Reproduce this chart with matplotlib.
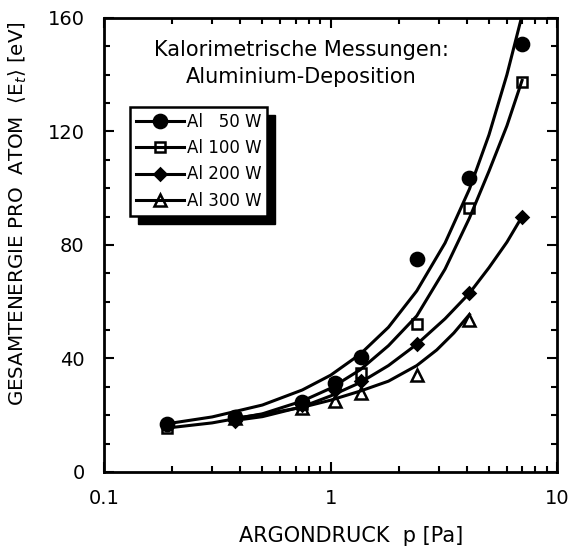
import numpy as np
import matplotlib
matplotlib.use("Agg")
import matplotlib.pyplot as plt
from matplotlib.patches import Rectangle
from matplotlib.legend_handler import HandlerTuple

plt.rcParams['font.family'] = ['DejaVu Sans']
plt.rcParams['mathtext.fontset'] = 'dejavusans'

# measured points (pressure in Pa, energy in eV)
p_50 = [0.19, 0.38, 0.75, 1.05, 1.36, 2.4, 4.1, 7.0]
e_50 = [17, 19.5, 24.5, 31.5, 40.5, 75, 103.5, 151]
p_100 = [0.19, 0.38, 0.75, 1.05, 1.36, 2.4, 4.1, 7.0]
e_100 = [15.5, 19, 24, 31, 35, 52, 93, 137.5]
p_200 = [0.38, 0.75, 1.05, 1.36, 2.4, 4.1, 7.0]
e_200 = [18, 23.5, 29, 32, 45, 63, 90]
p_300 = [0.38, 0.75, 1.05, 1.36, 2.4, 4.1]
e_300 = [19, 22.5, 25, 28, 34.2, 53.5]

# fit curves
pc_50 = [0.19, 0.3, 0.5, 0.75, 1.0, 1.35, 1.8, 2.4, 3.2, 4.1, 5.0, 6.0, 6.95]
ec_50 = [17, 19.4, 23.6, 28.9, 34.1, 41.5, 51, 63.8, 80.7, 99.7, 118.8, 140, 160]
pc_100 = [0.19, 0.3, 0.5, 0.75, 1.0, 1.35, 1.8, 2.4, 3.2, 4.1, 5.0, 6.0, 7.0]
ec_100 = [15.5, 17.3, 20.5, 25, 29.5, 36, 44.5, 55, 71.5, 89.5, 106, 122, 138]
pc_200 = [0.38, 0.5, 0.75, 1.0, 1.35, 1.8, 2.4, 3.2, 4.1, 5.0, 6.0, 7.0]
ec_200 = [18.2, 19.5, 23, 26.8, 31.5, 37.5, 45, 54, 63, 72, 81, 90]
pc_300 = [0.38, 0.5, 0.75, 1.0, 1.35, 1.8, 2.4, 2.94, 3.5, 4.1]
ec_300 = [19, 20.3, 22.8, 25.3, 28.5, 32, 37.5, 43, 49, 55.5]

labels = ['Al   50 W', 'Al 100 W', 'Al 200 W', 'Al 300 W']

fig = plt.figure(figsize=(5.7, 5.53), dpi=100)
ax = fig.add_axes([0.1825, 0.1465, 0.795, 0.821])

series = [
    (p_50, e_50, pc_50, ec_50, dict(marker='o', ms=9.5, mfc='black')),
    (p_100, e_100, pc_100, ec_100, dict(marker='s', ms=7.5, mfc='none')),
    (p_200, e_200, pc_200, ec_200, dict(marker='D', ms=6.5, mfc='black')),
    (p_300, e_300, pc_300, ec_300, dict(marker='^', ms=8, mfc='none')),
]
handles = []
for p, e, pc, ec, mk in series:
    ln, = ax.plot(pc, ec, '-', color='black', lw=2.2, zorder=2)
    mk_ln, = ax.plot(p, e, ls='none', color='black', mec='black', mew=1.8, zorder=3, **mk)
    handles.append((ln, mk_ln))

ax.set_xscale('log')
ax.set_xlim(0.1, 10)
ax.set_ylim(0, 160)
ax.set_xticks([0.1, 1, 10], ['0.1', '1', '10'])
ax.set_yticks([0, 40, 80, 120, 160])
ax.set_yticks(np.arange(0, 161, 10), minor=True)
ax.tick_params(which='both', direction='in', top=True, right=True, labelsize=14)
ax.tick_params(which='major', length=7, width=1.5)
ax.tick_params(which='minor', length=4, width=1.5)
ax.tick_params(axis='x', pad=12)
ax.tick_params(axis='y', pad=14)
for s in ax.spines.values():
    s.set_linewidth(2)

ax.set_xlabel('ARGONDRUCK  p [Pa]', fontsize=15)
ax.xaxis.set_label_coords(0.545, -0.12)
ax.set_ylabel(r'GESAMTENERGIE PRO  ATOM  $\langle$E$_t\rangle$ [eV]', fontsize=14.3)
ax.yaxis.set_label_coords(-0.165, 0.57)

ax.text(0.435, 0.9, 'Kalorimetrische Messungen:\nAluminium-Deposition',
        transform=ax.transAxes, ha='center', va='center', fontsize=15, linespacing=1.45)

leg = ax.legend(handles, labels, handler_map={tuple: HandlerTuple(ndivide=1)},
                loc='upper left', bbox_to_anchor=(0.057, 0.804), borderaxespad=0,
                fancybox=False, edgecolor='black', framealpha=1, fontsize=12,
                handlelength=2.9, handletextpad=0.15, labelspacing=0.5,
                borderpad=0.35)
leg.get_frame().set_linewidth(1.8)
leg.set_zorder(6)

fig.canvas.draw()
bb = leg.get_window_extent()
shadow = Rectangle((bb.x0 + 8, bb.y0 - 8), bb.width, bb.height, transform=None,
                   facecolor='black', edgecolor='black', zorder=5, clip_on=False)
ax.add_artist(shadow)

fig.savefig('out.png', dpi=100)
